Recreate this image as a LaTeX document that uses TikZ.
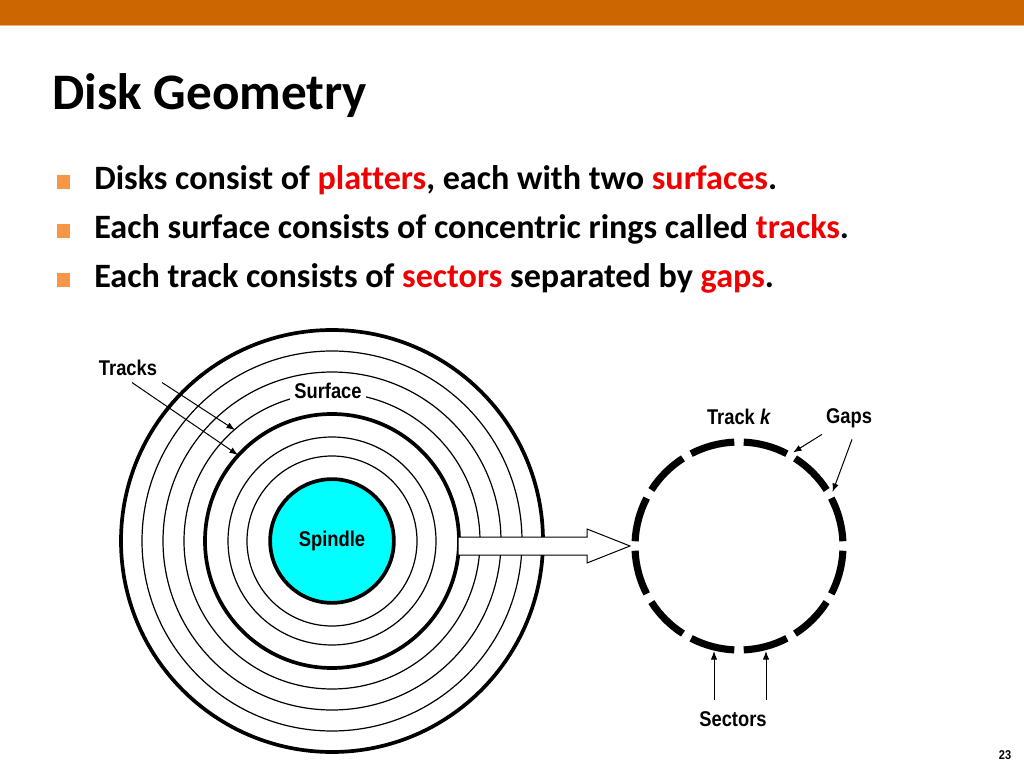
\documentclass[tikz,border=0pt]{standalone}
\usepackage{fontspec}
\setmainfont{Carlito}[Ligatures=NoCommon]
\newfontfamily\narrowfont[FakeStretch=0.86]{Liberation Sans}
\usetikzlibrary{positioning,calc,arrows.meta}

\definecolor{barorange}{RGB}{204,102,0}
\definecolor{barline}{RGB}{246,176,110}
\definecolor{bulletorange}{RGB}{247,150,70}
\definecolor{spindlecyan}{RGB}{0,255,255}
\definecolor{keyred}{RGB}{240,0,0}

\tikzset{
  lbl/.style={font=\narrowfont\bfseries\fontsize{15}{17}\selectfont, inner sep=1pt},
  bulletline/.style={anchor=base west, inner sep=0pt, font=\bfseries\fontsize{24}{28}\selectfont},
  bulletbox/.style={fill=bulletorange, minimum size=9.8pt, inner sep=0pt},
  ring/.style={line width=0.85pt},
  thickring/.style={line width=2.6pt},
  sector/.style={line width=5pt},
  ptr/.style={line width=0.7pt, -{Latex[length=6pt,width=4.5pt]}},
}

\begin{document}
\begin{tikzpicture}[x=0.703125pt, y=-0.703125pt]
  \useasboundingbox (0,0) rectangle (1024,768);
  % slide frame
  \fill[barorange] (0,0) rectangle (1024,25);
  \draw[barline, line width=0.8pt] (0,25.5) -- (1024,25.5);
  \node[anchor=base west, inner sep=0pt, font=\bfseries\fontsize{36}{40}\selectfont] (title) at (52,110) {Disk Geometry};

  \node[bulletbox] (b1) at (63.5,182) {};
  \node[bulletbox] (b2) at (63.5,231) {};
  \node[bulletbox] (b3) at (63.5,280) {};
  \node[bulletline] (l1) at (94,190) {Disks consist of \textcolor{keyred}{platters}, each with two \textcolor{keyred}{surfaces}.};
  \node[bulletline] (l2) at (94,239) {Each surface consists of concentric rings called \textcolor{keyred}{tracks}.};
  \node[bulletline] (l3) at (94,288) {Each track consists of \textcolor{keyred}{sectors} separated by \textcolor{keyred}{gaps}.};

  % the platter surface
  \coordinate (disk) at (332,541);
  \draw[thickring] (disk) circle (211);
  \foreach \r in {190,169,148,104,85} {
    \draw[ring] (disk) circle (\r);
  }
  \draw[thickring] (disk) circle (127);
  \node[circle, draw, line width=2.6pt, fill=spindlecyan, minimum size=87pt, inner sep=0pt, lbl] (spindle) at (disk) {Spindle};
  \node[lbl, fill=white, inner sep=3pt] (surface) at (328,391) {Surface};

  % tracks pointers
  \node[lbl] (tracks) at (128,368) {Tracks};
  \coordinate (trA) at (235,430);
  \coordinate (trB) at (238,455);
  \draw[ptr] ($(tracks.south)+(34,5)$) -- (trA);
  \draw[ptr] ($(tracks.south)+(4,5)$) -- (trB);

  % hollow arrow to the track
  \coordinate (shaft) at (458,545.5);
  \draw[fill=white, line width=0.7pt] (shaft) ++(0,-8.5) -- ++(129,0) -- ++(0,-8) -- ++(43,17)
    -- ++(-43,17) -- ++(0,-8) -- ++(-129,0) -- cycle;

  % track k with its sectors
  \coordinate (trk) at (739,546);
  \foreach \a in {0,30,...,330} {
    \draw[sector] ($(trk)+(\a+2.6:104)$) arc[start angle=\a+2.6, end angle=\a+27.4, radius=104];
  }
  \node[lbl] (trackk) at (739,417) {Track \textit{k}};
  \node[lbl] (gaps) at (849,418) {Gaps};
  \coordinate (gapA) at ($(trk)+(-60:108)$);
  \coordinate (gapB) at ($(trk)+(-30:108)$);
  \draw[ptr] ($(gaps.south)+(-27,5)$) -- (gapA);
  \draw[ptr] ($(gaps.south)+(3,10)$) -- (gapB);

  \node[lbl] (sectors) at (733,719) {Sectors};
  \coordinate (secA) at (714,651);
  \coordinate (secB) at (766,651);
  \draw[ptr] ([yshift=7pt]sectors.north -| secA) -- (secA);
  \draw[ptr] ([yshift=7pt]sectors.north -| secB) -- (secB);

  \node[font=\narrowfont\bfseries\fontsize{9}{10}\selectfont, inner sep=0pt] (page) at (1005,755) {23};
\end{tikzpicture}
\end{document}
